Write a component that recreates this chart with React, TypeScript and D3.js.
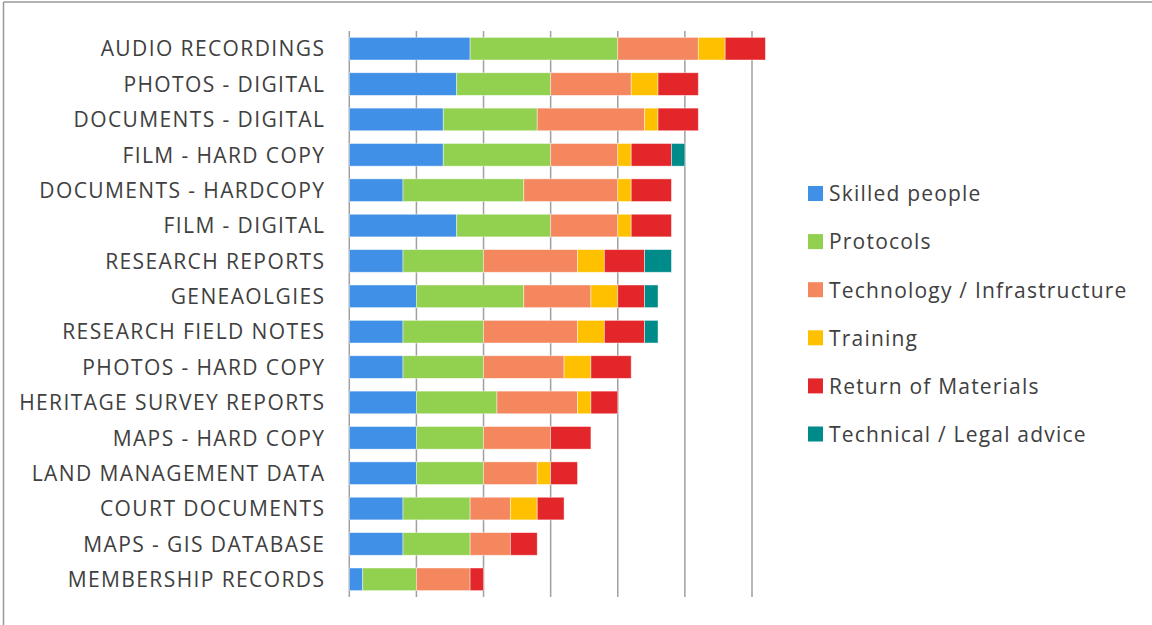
import React from "react";
import * as d3 from "d3";

const categories = [
  "AUDIO RECORDINGS",
  "PHOTOS - DIGITAL",
  "DOCUMENTS - DIGITAL",
  "FILM - HARD COPY",
  "DOCUMENTS - HARDCOPY",
  "FILM - DIGITAL",
  "RESEARCH REPORTS",
  "GENEAOLGIES",
  "RESEARCH FIELD NOTES",
  "PHOTOS - HARD COPY",
  "HERITAGE SURVEY REPORTS",
  "MAPS - HARD COPY",
  "LAND MANAGEMENT DATA",
  "COURT DOCUMENTS",
  "MAPS - GIS DATABASE",
  "MEMBERSHIP RECORDS",
];

const seriesNames = [
  "Skilled people",
  "Protocols",
  "Technology / Infrastructure",
  "Training",
  "Return of Materials",
  "Technical / Legal advice",
];

const skilledPeople = [9, 8, 7, 7, 4, 8, 4, 5, 4, 4, 5, 5, 5, 4, 4, 1];
const protocols = [11, 7, 7, 8, 9, 7, 6, 8, 6, 6, 6, 5, 5, 5, 5, 4];
const technology = [6, 6, 8, 5, 7, 5, 7, 5, 7, 6, 6, 5, 4, 3, 3, 4];
const training = [2, 2, 1, 1, 1, 1, 2, 2, 2, 2, 1, 0, 1, 2, 0, 0];
const returnOfMaterials = [3, 3, 3, 3, 3, 3, 3, 2, 3, 3, 2, 3, 2, 2, 2, 1];
const technicalLegal = [0, 0, 0, 1, 0, 0, 2, 1, 1, 0, 0, 0, 0, 0, 0, 0];

const gridTicks = [0, 5, 10, 15, 20, 25, 30];

const colors = ["#4090E8", "#92D050", "#F5875F", "#FFC000", "#E3262A", "#008B8B"];

const seriesValues = [skilledPeople, protocols, technology, training, returnOfMaterials, technicalLegal];

export default function App() {
  const W = 1152;
  const H = 625;
  const x = d3.scaleLinear().domain([0, 30]).range([349.3, 752]);
  const y = d3
    .scaleBand<string>()
    .domain(categories)
    .range([31, 597])
    .paddingInner(0.36)
    .paddingOuter(0.18);

  const rows = categories.map((c, i) => {
    const obj: Record<string, number | string> = { cat: c };
    seriesNames.forEach((s, k) => (obj[s] = seriesValues[k][i]));
    return obj;
  });
  const stacked = d3.stack<any>().keys(seriesNames)(rows);

  const font = "'Open Sans', sans-serif";
  const textColor = "#404040";
  const fs = 21;
  const ls = 1.4;

  return (
    <svg
      width={W}
      height={H}
      style={{ position: "absolute", left: 0, top: 0, background: "#fff" }}
    >
      <rect x={0} y={0} width={W} height={H} fill="#fff" />
      {/* frame */}
      <line x1={3.5} y1={2} x2={W} y2={2} stroke="#999" strokeWidth={1.5} />
      <line x1={3.5} y1={2} x2={3.5} y2={H} stroke="#999" strokeWidth={1.5} />

      {/* grid */}
      {gridTicks.map((t) => (
        <line
          key={t}
          x1={x(t)}
          x2={x(t)}
          y1={31}
          y2={597}
          stroke="#a0a0a0"
          strokeWidth={1.5}
        />
      ))}

      {/* bars */}
      {stacked.map((layer, k) => (
        <g key={layer.key} fill={colors[k]}>
          {layer.map((d, i) =>
            d[1] - d[0] > 0 ? (
              <rect
                key={i}
                x={x(d[0])}
                y={y(categories[i])}
                width={x(d[1]) - x(d[0])}
                height={y.bandwidth()}
                stroke="#ffffff"
                strokeOpacity={0.55}
                strokeWidth={0.8}
              />
            ) : null
          )}
        </g>
      ))}

      {/* category labels */}
      {categories.map((c) => (
        <text
          key={c}
          x={324 + ls}
          y={(y(c) as number) + y.bandwidth() / 2 + 7.8}
          textAnchor="end"
          fontFamily={font}
          fontSize={fs}
          letterSpacing={ls}
          fill={textColor}
        >
          {c}
        </text>
      ))}

      {/* legend */}
      {seriesNames.map((s, k) => {
        const cy = 193.5 + k * 48.1;
        return (
          <g key={s}>
            <rect x={808} y={cy - 7.5} width={15} height={15} fill={colors[k]} />
            <text
              x={829}
              y={cy + 7.8}
              fontFamily={font}
              fontSize={fs}
              letterSpacing={1.2}
              fill={textColor}
            >
              {s}
            </text>
          </g>
        );
      })}
    </svg>
  );
}
